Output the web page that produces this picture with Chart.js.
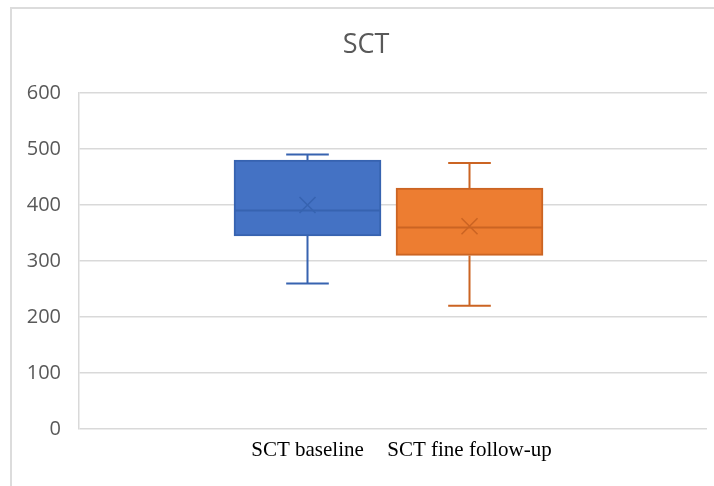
<!DOCTYPE html>
<html>
<head>
<meta charset="utf-8">
<title>SCT</title>
<script src="https://cdn.jsdelivr.net/npm/chart.js@4/dist/chart.umd.min.js"></script>
<style>
  html, body { margin: 0; padding: 0; background: #ffffff; }
  #wrap { position: relative; width: 714px; height: 486px; overflow: hidden; }
  #frame { position: absolute; left: 10px; top: 7px; right: -4px; bottom: -4px;
           border-top: 2px solid #dcdcdc; border-left: 2px solid #dcdcdc; }
  canvas { position: absolute; left: 0; top: 0; }
</style>
</head>
<body>
<div id="wrap">
  <div id="frame"></div>
  <canvas id="chart" width="714" height="486"></canvas>
</div>
<script>
// Box-and-whisker summary for each group
const categories = ['SCT baseline', 'SCT fine follow-up'];
const xPositions = [1, 2];
const minVals    = [260, 220];
const q1Vals     = [345, 310];
const medianVals = [390, 360];
const q3Vals     = [480, 430];
const maxVals    = [490, 475];
const meanVals   = [400, 362];
const yTicks     = [0, 100, 200, 300, 400, 500, 600];

const fillColors = ['#4472C4', '#ED7D31'];
const lineColors = ['#3763B0', '#CB6423'];

// Whiskers, median line and mean marker drawn on top of the box bars
const boxDetails = {
  id: 'boxDetails',
  afterDatasetsDraw(chart) {
    const { ctx, scales: { x, y } } = chart;
    const meta = chart.getDatasetMeta(0);
    ctx.save();
    meta.data.forEach((bar, i) => {
      const cx = x.getPixelForValue(xPositions[i]);
      const half = bar.width / 2;
      const cap = bar.width * 0.145;
      const yMin = y.getPixelForValue(minVals[i]);
      const yMax = y.getPixelForValue(maxVals[i]);
      const yQ1 = y.getPixelForValue(q1Vals[i]);
      const yQ3 = y.getPixelForValue(q3Vals[i]);
      const yMed = y.getPixelForValue(medianVals[i]);
      const yMean = y.getPixelForValue(meanVals[i]);
      ctx.strokeStyle = lineColors[i];
      ctx.lineWidth = 2;
      ctx.beginPath();
      // upper whisker
      ctx.moveTo(cx, yQ3); ctx.lineTo(cx, yMax);
      ctx.moveTo(cx - cap, yMax); ctx.lineTo(cx + cap, yMax);
      // lower whisker
      ctx.moveTo(cx, yQ1); ctx.lineTo(cx, yMin);
      ctx.moveTo(cx - cap, yMin); ctx.lineTo(cx + cap, yMin);
      // median
      ctx.moveTo(cx - half, yMed); ctx.lineTo(cx + half, yMed);
      ctx.stroke();
      // mean marker (x)
      const m = 8;
      ctx.lineWidth = 1.5;
      ctx.beginPath();
      ctx.moveTo(cx - m, yMean - m); ctx.lineTo(cx + m, yMean + m);
      ctx.moveTo(cx - m, yMean + m); ctx.lineTo(cx + m, yMean - m);
      ctx.stroke();
    });
    ctx.restore();
  }
};

new Chart(document.getElementById('chart'), {
  type: 'bar',
  data: {
    datasets: [{
      label: 'SCT',
      data: xPositions.map((xv, i) => ({ x: xv, y: [q1Vals[i], q3Vals[i]] })),
      backgroundColor: fillColors,
      borderColor: lineColors,
      borderWidth: 2,
      borderSkipped: false,
      barThickness: 147,
      grouped: false
    }]
  },
  options: {
    responsive: false,
    animation: false,
    layout: { padding: { left: 25, right: 7, top: 29, bottom: 0 } },
    plugins: {
      legend: { display: false },
      tooltip: { enabled: false },
      title: {
        display: true,
        text: 'SCT',
        color: '#595959',
        font: { family: 'Open Sans', size: 27, weight: 'normal' },
        padding: { top: 0, bottom: 31.6 }
      }
    },
    scales: {
      x: {
        type: 'linear',
        offset: false,
        bounds: 'data',
        min: -0.4105,
        max: 3.466,
        grid: { display: false, drawTicks: false },
        border: { display: false },
        afterBuildTicks(scale) { scale.ticks = xPositions.map(v => ({ value: v })); },
        afterFit(scale) { scale.height = 57; },
        ticks: {
          padding: 9,
          color: '#000000',
          font: { family: 'Liberation Serif', size: 21 },
          callback: (value, index) => categories[index]
        }
      },
      y: {
        min: 0,
        max: 600,
        afterBuildTicks(scale) { scale.ticks = yTicks.map(v => ({ value: v })); },
        afterFit(scale) { scale.width = 54; },
        grid: { color: '#d9d9d9', lineWidth: 1.5, drawTicks: false },
        border: { display: true, color: '#d9d9d9', width: 1.5 },
        ticks: {
          padding: 18,
          color: '#595959',
          font: { family: 'Open Sans', size: 20 }
        }
      }
    }
  },
  plugins: [boxDetails]
});
</script>
</body>
</html>
